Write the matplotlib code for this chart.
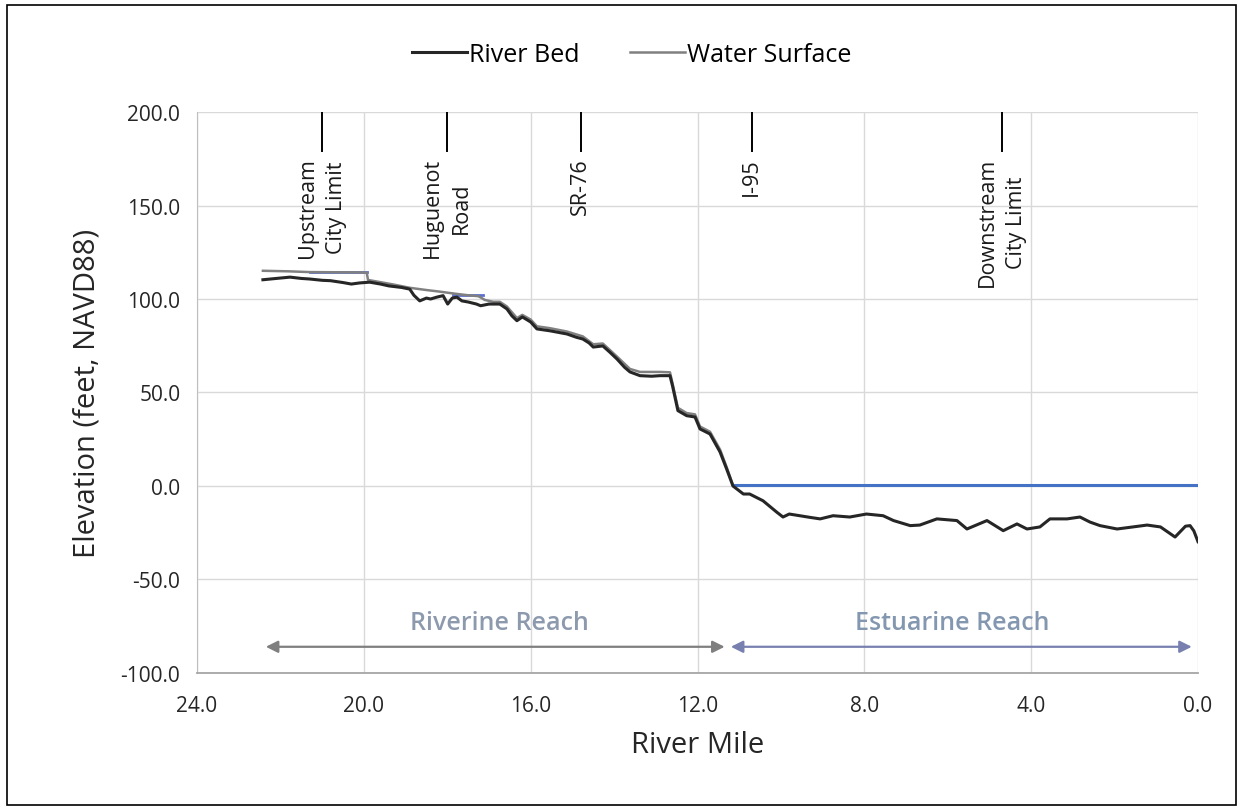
import matplotlib
matplotlib.use("Agg")
import matplotlib.pyplot as plt
from matplotlib.patches import Rectangle

plt.rcParams['font.family'] = ['Open Sans', 'DejaVu Sans']

# river bed profile (river mile, elevation ft NAVD88)
bed_mile = [22.42, 22.1, 21.77, 21.5, 21.3, 21.0, 20.8, 20.5, 20.3, 20.1, 19.86, 19.6,
            19.4, 19.1, 18.9, 18.8, 18.66, 18.5, 18.4, 18.25, 18.1, 17.99, 17.88, 17.77,
            17.65, 17.5, 17.3, 17.2, 17.0, 16.74, 16.57, 16.45, 16.33, 16.2, 16.0, 15.85,
            15.54, 15.3, 15.13, 14.9, 14.75, 14.6, 14.5, 14.27, 14.1, 13.93, 13.75, 13.62,
            13.38, 13.1, 12.9, 12.66, 12.6, 12.47, 12.26, 12.06, 11.94, 11.7, 11.46, 11.3,
            11.15, 10.9, 10.75, 10.43, 10.1, 9.95, 9.8, 9.55, 9.3, 9.06, 8.75, 8.35, 7.95,
            7.55, 7.3, 6.9, 6.67, 6.26, 5.78, 5.54, 5.06, 4.67, 4.34, 4.1, 3.79, 3.55, 3.14,
            2.83, 2.59, 2.35, 1.94, 1.56, 1.22, 0.9, 0.55, 0.3, 0.19, 0.1, 0.0]
bed_elev = [110.3, 111.0, 111.7, 111.0, 110.7, 110.0, 109.8, 108.8, 108.0, 108.6, 109.0, 108.0,
            107.0, 106.2, 105.3, 102.0, 99.0, 100.5, 100.0, 101.0, 101.8, 97.3, 100.5, 101.0,
            99.0, 98.4, 97.3, 96.4, 97.3, 97.3, 94.7, 91.0, 88.4, 90.4, 87.7, 84.0,
            83.0, 82.0, 81.3, 79.5, 78.6, 76.5, 74.3, 74.9, 71.5, 67.9, 63.5, 61.0,
            59.0, 58.7, 59.0, 59.0, 53.6, 40.3, 37.6, 36.9, 30.5, 27.8, 18.2, 9.0,
            0.0, -4.3, -4.3, -7.9, -14.0, -16.6, -15.0, -15.9, -16.8, -17.6, -15.9, -16.6, -15.0,
            -15.9, -18.5, -21.2, -20.9, -17.6, -18.5, -23.0, -18.5, -23.9, -20.3, -23.0, -21.9, -17.6, -17.6,
            -16.6, -19.3, -21.2, -23.0, -21.9, -20.9, -21.9, -27.3, -21.5, -21.2, -24.0, -29.8]

# water surface profile
ws_mile = [22.42, 21.8, 21.3, 20.0, 19.93, 19.9, 19.6, 19.3, 18.9, 18.5, 18.2, 17.8, 17.5,
           17.25, 17.1, 16.9, 16.74, 16.57, 16.33, 16.2, 16.0, 15.85, 15.54, 15.13, 14.75,
           14.5, 14.27, 13.93, 13.62, 13.38, 12.9, 12.66, 12.6, 12.47, 12.26, 12.06, 11.94,
           11.7, 11.46, 11.3, 11.15]
ws_elev = [115.1, 114.8, 114.4, 114.2, 114.0, 110.2, 109.0, 107.8, 106.0, 104.8, 104.0, 102.8, 102.0,
           101.5, 99.5, 98.5, 98.5, 96.0, 89.8, 91.5, 89.0, 85.4, 84.4, 82.6, 80.0,
           75.8, 76.2, 69.2, 62.6, 61.0, 61.0, 60.8, 55.0, 41.8, 39.0, 38.3, 31.8,
           29.0, 19.5, 10.0, 0.5]

# level pool / tidal segments
pool1_mile = [21.3, 19.93]
pool1_elev = [114.2, 114.2]
pool2_mile = [17.86, 17.15]
pool2_elev = [102.2, 102.2]
tide_mile = [11.15, 0.0]
tide_elev = [0.5, 0.5]

# landmarks
mark_mile = [21.0, 18.0, 14.8, 10.7, 4.7]
mark_text = ["Upstream\nCity Limit", "Huguenot\nRoad", "SR-76", "I-95", "Downstream\nCity Limit"]

x_ticks = [24, 20, 16, 12, 8, 4, 0]
y_ticks = [-100, -50, 0, 50, 100, 150, 200]

fig = plt.figure(figsize=(12.43, 8.12), dpi=100)
ax = fig.add_axes([0.1585, 0.170, 0.8053, 0.6908])

ax.plot(pool1_mile, pool1_elev, color='#5b6fd0', lw=2.0, zorder=2)
ax.plot(pool2_mile, pool2_elev, color='#5b6fd0', lw=2.0, zorder=2)
ax.plot(tide_mile, tide_elev, color='#4472c4', lw=2.2, zorder=2)
ax.plot(bed_mile, bed_elev, color='#262626', lw=2.2, label='River Bed', zorder=3)
ax.plot(ws_mile, ws_elev, color='#808080', lw=1.8, label='Water Surface', zorder=2.5)

for m, t in zip(mark_mile, mark_text):
    ax.plot([m, m], [200, 179], color='black', lw=1.4)
    ax.text(m, 176, t, rotation=90, ha='center', va='top', multialignment='center',
            fontsize=15.5, color='#1a1a1a', linespacing=1.5)

# reach arrows
ax.annotate('', xy=(22.35, -86), xytext=(11.35, -86),
            arrowprops=dict(arrowstyle='<|-|>', color='#7f7f7f', lw=1.6,
                            mutation_scale=18, shrinkA=0, shrinkB=0))
ax.annotate('', xy=(11.2, -86), xytext=(0.15, -86),
            arrowprops=dict(arrowstyle='<|-|>', color='#7880b0', lw=1.6,
                            mutation_scale=18, shrinkA=0, shrinkB=0))
ax.text(16.75, -73, 'Riverine Reach', ha='center', va='center', fontsize=18,
        fontweight='semibold', color='#8d9aae')
ax.text(5.9, -73, 'Estuarine Reach', ha='center', va='center', fontsize=18,
        fontweight='semibold', color='#8497b0')

ax.set_xlim(24, 0)
ax.set_ylim(-100, 200)
ax.set_xticks(x_ticks)
ax.set_xticklabels(['%.1f' % v for v in x_ticks])
ax.set_yticks(y_ticks)
ax.set_yticklabels(['%.1f' % v for v in y_ticks])
ax.tick_params(length=0, labelsize=15, colors='#262626')
ax.tick_params(axis='x', pad=16)
ax.tick_params(axis='y', pad=12)
ax.grid(True, color='#d9d9d9', lw=1.0)
ax.set_axisbelow(True)
for s in ['top', 'right']:
    ax.spines[s].set_visible(False)
ax.spines['left'].set_color('#bfbfbf')
ax.spines['bottom'].set_color('#a6a6a6')
ax.spines['bottom'].set_linewidth(1.3)

ax.set_xlabel('River Mile', fontsize=21, color='#262626', labelpad=10)
ax.set_ylabel('Elevation (feet, NAVD88)', fontsize=21, color='#262626', labelpad=14)

fig.legend(loc='upper center', bbox_to_anchor=(0.508, 0.975), ncol=2, frameon=False,
           fontsize=18, handlelength=2.2, handletextpad=0.1, columnspacing=2.0)

fig.patches.append(Rectangle((0.006, 0.007), 0.988, 0.986, transform=fig.transFigure,
                             fill=False, ec='black', lw=1.2))

fig.savefig('out.png', dpi=100)
